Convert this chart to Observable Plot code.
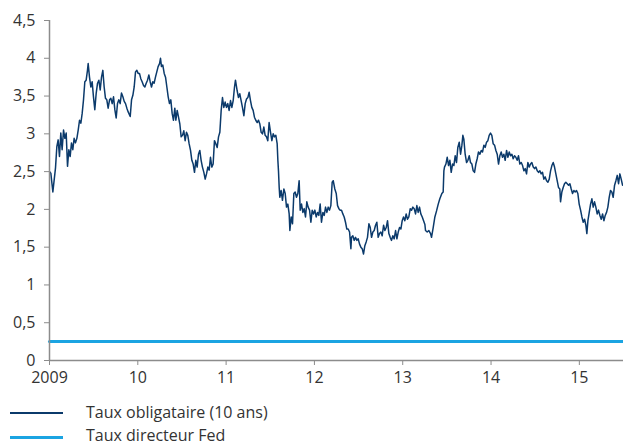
<!DOCTYPE html>
<html>
<head>
<meta charset="utf-8">
<script src="https://cdn.jsdelivr.net/npm/d3@7"></script>
<script src="https://cdn.jsdelivr.net/npm/@observablehq/plot@0.6"></script>
<style>
  html, body { margin: 0; padding: 0; background: #fff; }
  body { width: 623px; height: 446px; position: relative; font-family: "Open Sans", "Noto Sans", sans-serif; overflow: hidden; }
  #chart { position: absolute; left: 0; top: 0; }
  .legend { position: absolute; left: 0; font-size: 16px; color: #333; line-height: 16px; height: 16px; }
  .legend .sw { position: absolute; left: 10px; width: 53px; }
  .legend .lbl { position: absolute; left: 86px; top: 0; white-space: nowrap; }
</style>
</head>
<body>
<div id="chart"></div>
<div class="legend" id="leg1" style="top:404px;"><div class="sw" style="top:8.25px;height:1.5px;background:#0b3a6b;"></div><div class="lbl" id="lbl1"></div></div>
<div class="legend" id="leg2" style="top:427px;"><div class="sw" style="top:8.5px;height:3px;background:#1ba4e2;"></div><div class="lbl" id="lbl2"></div></div>
<script>
// Series names
const seriesNames = ["Taux obligataire (10 ans)", "Taux directeur Fed"];

// X tick labels
const xTicks = [2009, 2010, 2011, 2012, 2013, 2014, 2015];
const xTickLabels = ["2009", "10", "11", "12", "13", "14", "15"];
// Y tick labels
const yTicks = [0, 0.5, 1, 1.5, 2, 2.5, 3, 3.5, 4, 4.5];
const yTickLabels = ["0", "0,5", "1", "1,5", "2", "2,5", "3", "3,5", "4", "4,5"];

// 10-year bond yield (decimal year, %)
const bondTime = [
2009.000,2009.015,2009.038,2009.053,2009.068,2009.083,2009.098,2009.113,2009.128,2009.143,
2009.159,2009.174,2009.189,2009.204,2009.219,2009.234,2009.249,2009.264,2009.279,2009.294,
2009.310,2009.325,2009.340,2009.355,2009.370,2009.385,2009.400,2009.415,2009.430,2009.438,
2009.453,2009.468,2009.483,2009.498,2009.513,2009.529,2009.544,2009.559,2009.574,2009.589,
2009.604,2009.619,2009.634,2009.649,2009.664,2009.680,2009.695,2009.710,2009.725,2009.740,
2009.755,2009.770,2009.785,2009.800,2009.815,2009.831,2009.846,2009.861,2009.876,2009.891,
2009.914,2009.929,2009.944,2009.959,2009.974,2009.989,2010.004,2010.019,2010.034,2010.049,
2010.065,2010.080,2010.095,2010.110,2010.125,2010.140,2010.155,2010.170,2010.185,2010.200,
2010.215,2010.230,2010.246,2010.257,2010.268,2010.283,2010.299,2010.314,2010.329,2010.344,
2010.359,2010.374,2010.389,2010.404,2010.419,
2010.431,2010.446,2010.461,2010.476,2010.491,2010.506,2010.521,2010.536,2010.551,2010.566,
2010.581,2010.597,2010.612,2010.627,2010.642,2010.657,2010.672,2010.687,2010.702,2010.717,
2010.732,2010.748,2010.763,2010.778,2010.793,2010.808,2010.823,2010.838,2010.853,2010.868,
2010.883,2010.899,2010.914,2010.929,2010.944,2010.959,2010.974,2010.989,2011.004,2011.019,
2011.034,2011.050,2011.065,2011.080,2011.095,2011.106,2011.125,2011.140,2011.155,2011.170,
2011.185,2011.201,2011.216,2011.231,2011.246,2011.261,2011.276,2011.291,2011.306,2011.321,
2011.336,2011.352,2011.367,2011.382,2011.397,2011.412,2011.427,2011.442,2011.457,2011.472,
2011.487,2011.503,2011.518,2011.533,2011.548,2011.563,2011.578,2011.586,2011.593,2011.601,
2011.608,2011.623,2011.638,2011.654,2011.669,2011.684,2011.699,2011.714,2011.722,2011.737,
2011.752,2011.767,2011.782,2011.797,2011.812,2011.827,
2011.839,2011.854,2011.869,2011.884,2011.899,2011.914,2011.929,2011.945,2011.960,2011.975,
2011.990,2012.005,2012.020,2012.035,2012.050,2012.065,2012.080,2012.096,2012.111,2012.126,
2012.141,2012.156,2012.171,2012.186,2012.201,2012.213,2012.231,2012.247,2012.262,2012.277,
2012.292,2012.307,2012.322,2012.337,2012.352,2012.367,2012.382,2012.398,2012.413,2012.420,
2012.435,2012.450,2012.465,2012.481,2012.496,2012.511,2012.526,2012.541,2012.556,2012.571,
2012.586,2012.601,2012.617,2012.632,2012.647,2012.662,2012.677,2012.692,2012.707,2012.722,
2012.737,2012.752,2012.767,2012.783,2012.798,2012.813,2012.828,2012.843,2012.858,2012.873,
2012.888,2012.903,2012.919,2012.934,2012.949,2012.964,2012.979,2012.994,2013.009,2013.024,
2013.039,2013.054,2013.069,2013.085,2013.100,2013.115,2013.130,2013.145,2013.160,2013.175,
2013.190,2013.205,2013.221,2013.236,2013.251,
2013.258,2013.277,2013.296,2013.315,2013.326,2013.345,2013.364,2013.383,2013.402,2013.420,
2013.443,2013.458,2013.466,2013.473,2013.489,2013.504,2013.519,2013.534,2013.549,2013.564,
2013.579,2013.594,2013.609,2013.624,2013.640,2013.655,2013.670,2013.681,2013.692,2013.707,
2013.723,2013.738,2013.753,2013.768,2013.783,2013.798,2013.813,2013.828,2013.843,2013.858,
2013.874,2013.889,2013.904,2013.919,2013.934,2013.949,2013.964,2013.979,2013.994,2014.009,
2014.024,2014.040,2014.055,2014.070,2014.085,2014.100,2014.115,2014.130,2014.145,2014.160,
2014.176,2014.191,2014.206,2014.221,2014.236,2014.251,2014.266,2014.281,2014.296,2014.311,
2014.326,2014.342,2014.357,2014.372,2014.387,2014.402,2014.417,2014.432,2014.447,
2014.462,2014.478,2014.493,2014.508,2014.523,2014.538,2014.553,2014.568,2014.583,2014.598,
2014.613,2014.629,2014.644,2014.659,2014.674,2014.689,2014.704,2014.719,2014.734,2014.749,
2014.764,2014.779,2014.787,2014.802,2014.817,2014.832,2014.847,2014.863,2014.878,2014.893,
2014.908,2014.923,2014.938,2014.953,2014.968,2014.983,2014.998,2015.014,2015.029,2015.044,
2015.059,2015.074,2015.085,2015.097,2015.112,2015.127,2015.142,2015.157,2015.172,2015.187,
2015.202,2015.217,2015.233,2015.248,2015.263,2015.278,2015.293,2015.308,2015.323,2015.338,
2015.353,2015.368,2015.383,2015.399,2015.414,2015.429,2015.444,2015.459,2015.474,2015.489
];
const bondYield = [
2.50,2.48,2.23,2.39,2.55,2.83,2.92,2.70,3.01,2.79,
3.05,2.94,3.01,2.57,2.79,2.70,2.88,2.79,2.94,2.88,
2.94,3.05,3.18,3.14,3.27,3.45,3.69,3.71,3.84,3.93,
3.75,3.62,3.69,3.49,3.32,3.54,3.67,3.71,3.58,3.75,
3.84,3.62,3.47,3.45,3.34,3.45,3.47,3.40,3.49,3.32,
3.21,3.40,3.45,3.40,3.54,3.49,3.43,3.40,3.34,3.29,
3.23,3.45,3.51,3.62,3.82,3.84,3.80,3.80,3.73,3.69,
3.64,3.62,3.67,3.71,3.78,3.69,3.62,3.69,3.67,3.75,
3.82,3.89,3.93,4.00,3.89,3.91,3.80,3.75,3.62,3.49,
3.40,3.45,3.27,3.18,3.34,
3.18,3.31,3.22,3.13,2.96,2.98,3.04,2.91,3.02,2.98,
2.87,2.78,2.65,2.60,2.49,2.65,2.56,2.73,2.78,2.65,
2.56,2.49,2.40,2.47,2.56,2.52,2.69,2.56,2.60,2.91,
2.87,2.82,2.96,3.02,3.31,3.48,3.35,3.42,3.35,3.40,
3.31,3.44,3.35,3.44,3.62,3.71,3.57,3.48,3.53,3.44,
3.35,3.24,3.40,3.46,3.48,3.55,3.44,3.35,3.31,3.22,
3.18,3.15,3.18,3.13,3.02,3.00,3.09,2.98,2.96,2.91,
3.15,3.02,2.91,3.00,2.96,2.98,2.87,2.65,2.51,2.29,
2.16,2.25,2.12,2.27,2.21,2.03,2.07,1.94,1.72,1.90,
1.81,2.21,2.23,2.16,2.21,2.38,
1.99,2.07,1.96,2.01,1.90,2.10,2.03,1.99,1.83,1.99,
1.94,1.99,1.90,1.96,1.92,2.07,1.83,1.96,1.92,2.03,
1.96,2.03,1.99,2.05,2.36,2.38,2.27,2.21,2.05,2.01,
1.99,1.99,1.94,1.90,1.83,1.74,1.74,1.70,1.48,1.63,
1.65,1.59,1.63,1.59,1.61,1.54,1.50,1.48,1.41,1.52,
1.57,1.63,1.81,1.76,1.63,1.70,1.72,1.79,1.83,1.63,
1.68,1.70,1.65,1.79,1.72,1.76,1.85,1.68,1.63,1.59,
1.65,1.61,1.72,1.61,1.70,1.76,1.74,1.85,1.90,1.85,
1.94,1.87,1.90,2.01,1.99,2.03,2.01,1.94,2.05,1.96,
2.03,1.94,1.90,1.85,1.80,
1.72,1.70,1.72,1.68,1.63,1.76,1.90,1.98,2.07,2.14,
2.21,2.23,2.51,2.56,2.60,2.69,2.58,2.65,2.49,2.60,
2.58,2.71,2.62,2.82,2.89,2.73,2.85,2.98,2.93,2.73,
2.62,2.65,2.71,2.62,2.60,2.51,2.49,2.60,2.67,2.76,
2.73,2.78,2.76,2.85,2.82,2.89,2.91,2.98,3.01,2.98,
2.87,2.85,2.78,2.73,2.60,2.71,2.76,2.69,2.73,2.65,
2.78,2.69,2.76,2.71,2.73,2.67,2.71,2.69,2.65,2.71,
2.60,2.62,2.58,2.51,2.54,2.47,2.62,2.56,2.60,
2.62,2.56,2.54,2.56,2.51,2.49,2.51,2.47,2.49,2.40,
2.43,2.38,2.36,2.40,2.51,2.58,2.62,2.56,2.47,2.38,
2.29,2.27,2.10,2.23,2.29,2.34,2.36,2.34,2.32,2.34,
2.27,2.21,2.25,2.23,2.25,2.21,2.07,1.99,1.90,1.83,
1.87,1.79,1.68,1.85,1.96,2.07,2.14,2.03,2.10,2.03,
1.94,1.99,1.92,1.87,1.94,1.85,1.92,1.96,2.03,2.16,
2.25,2.23,2.16,2.32,2.38,2.45,2.34,2.47,2.40,2.32
];

// Fed funds target rate
const fedTime = [2009.0, 2015.5];
const fedRate = [0.25, 0.25];

const bond = bondTime.map((t, i) => ({t, v: bondYield[i]}));
const fed = fedTime.map((t, i) => ({t, v: fedRate[i]}));

const axisGray = "#8c8c8c";
const textCol = "#333333";

const chart = Plot.plot({
  width: 623,
  height: 390,
  marginLeft: 49,
  marginRight: 0,
  marginTop: 20,
  marginBottom: 30,
  style: { fontFamily: "'Open Sans', 'Noto Sans', sans-serif", fontSize: "16px", color: textCol, background: "#fff", overflow: "visible" },
  x: { domain: [2009, 2015.5], axis: null },
  y: { domain: [0, 4.5], axis: null },
  marks: [
    Plot.line(fed, { x: "t", y: "v", stroke: "#1ba4e2", strokeWidth: 3 }),
    Plot.line(bond, { x: "t", y: "v", stroke: "#0b3a6b", strokeWidth: 1.5, strokeLinejoin: "round" }),
    Plot.ruleX([2009], { y1: 0, y2: 4.5, stroke: axisGray, strokeWidth: 1.5 }),
    Plot.ruleY([0], { stroke: axisGray, strokeWidth: 1.5 }),
    Plot.axisY({ ticks: yTicks, tickFormat: (d) => yTickLabels[yTicks.indexOf(d)], tickSize: 5, tickPadding: 9, stroke: axisGray, fill: textCol, label: null, fontSize: 16 }),
    Plot.axisX({ ticks: xTicks, tickFormat: (d) => xTickLabels[xTicks.indexOf(d)], tickSize: 5, tickPadding: 6, stroke: axisGray, fill: textCol, label: null, fontSize: 16 })
  ]
});
document.getElementById("chart").appendChild(chart);
document.getElementById("lbl1").textContent = seriesNames[0];
document.getElementById("lbl2").textContent = seriesNames[1];
</script>
</body>
</html>
